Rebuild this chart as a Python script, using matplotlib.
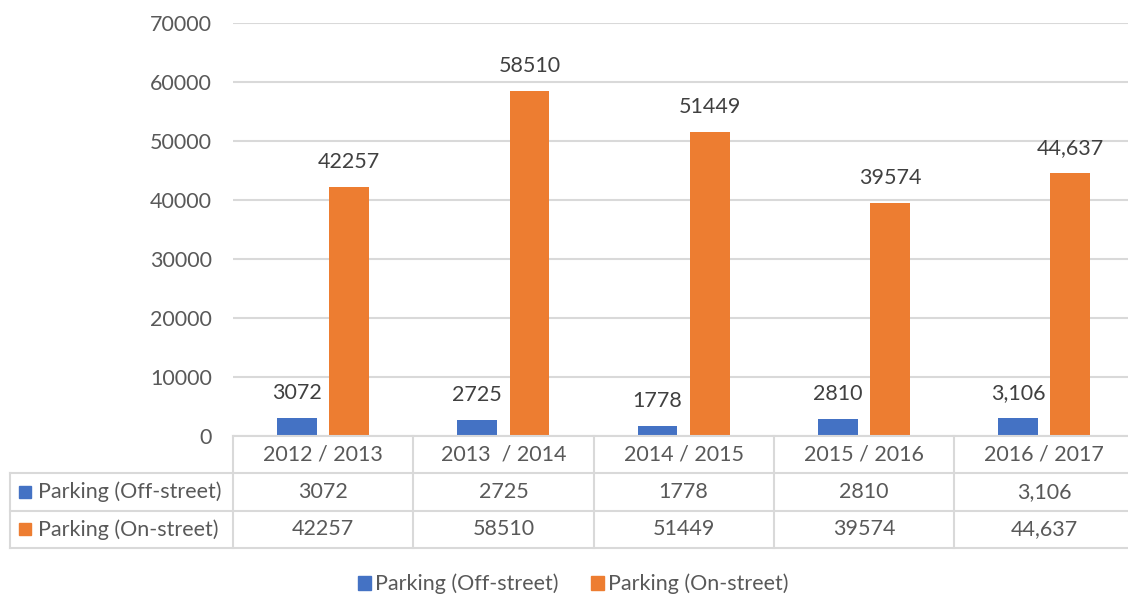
import numpy as np
import matplotlib.pyplot as plt
from matplotlib.patches import Patch

# данные
years = ['2012 / 2013', '2013  / 2014', '2014 / 2015', '2015 / 2016', '2016 / 2017']
off_street = [3072, 2725, 1778, 2810, 3106]
on_street = [42257, 58510, 51449, 39574, 44637]
off_labels = ['3072', '2725', '1778', '2810', '3,106']
on_labels = ['42257', '58510', '51449', '39574', '44,637']
series_names = ['Parking (Off-street)', 'Parking (On-street)']

blue = '#4472C4'
orange = '#ED7D31'
txt = '#595959'
grid = '#D9D9D9'
fs = 15.5

plt.rcParams['font.family'] = ['Lato', 'DejaVu Sans']

W, H = 1128, 596
fig = plt.figure(figsize=(W / 100, H / 100), dpi=100)

col_w = 180.25
x0, y0, ytop = 233, 436, 23
ax = fig.add_axes([x0 / W, 1 - y0 / H, 5 * col_w / W, (y0 - ytop) / H])

x = np.arange(len(years))
bw = 0.22
off = 0.145
ax.bar(x - off, off_street, bw, color=blue)
ax.bar(x + off, on_street, bw, color=orange)
for i in range(len(years)):
    ax.annotate(off_labels[i], (x[i] - off, off_street[i]), xytext=(0, 25),
                textcoords='offset pixels', ha='center', va='center', fontsize=fs, color='#404040')
    ax.annotate(on_labels[i], (x[i] + off, on_street[i]), xytext=(0, 25),
                textcoords='offset pixels', ha='center', va='center', fontsize=fs, color='#404040')

ax.set_xlim(-0.5, 4.5)
ax.set_ylim(0, 70000)
ax.set_yticks(np.arange(0, 70001, 10000))
ax.set_yticklabels([str(v) for v in range(0, 70001, 10000)], fontsize=fs, color=txt)
ax.tick_params(axis='y', length=0, pad=15)
ax.set_xticks([])
ax.grid(axis='y', color=grid, linewidth=1.5)
ax.set_axisbelow(True)
for s in ax.spines.values():
    s.set_visible(False)

# таблица данных под графиком
tl = 10
axt = fig.add_axes([tl / W, 1 - 548 / H, (x0 + 5 * col_w - tl) / W, (548 - y0) / H])
axt.set_xlim(-0.5 - (x0 - tl) / col_w, 4.5)
axt.set_ylim(0, 3)
axt.axis('off')
xl = -0.5 - (x0 - tl) / col_w
lw = 1.5
axt.plot([-0.5, 4.5], [3, 3], color=grid, lw=lw, clip_on=False)
for yy in [2, 1, 0]:
    axt.plot([xl, 4.5], [yy, yy], color=grid, lw=lw, clip_on=False)
axt.plot([xl, xl], [0, 2], color=grid, lw=lw, clip_on=False)
for k in range(5):
    axt.plot([k - 0.5, k - 0.5], [0, 3], color=grid, lw=lw, clip_on=False)

for i in range(len(years)):
    axt.text(x[i], 2.5, years[i], ha='center', va='center', fontsize=fs, color=txt)
    axt.text(x[i], 1.5, off_labels[i], ha='center', va='center', fontsize=fs, color=txt)
    axt.text(x[i], 0.5, on_labels[i], ha='center', va='center', fontsize=fs, color=txt)

mx = xl + 15 / col_w
tx = xl + 28 / col_w
for yy, c, name in [(1.5, blue, series_names[0]), (0.5, orange, series_names[1])]:
    axt.plot([mx], [yy], marker='s', color=c, markersize=9, clip_on=False)
    axt.text(tx, yy, name, ha='left', va='center', fontsize=fs, color=txt)

handles = [Patch(color=blue, label=series_names[0]), Patch(color=orange, label=series_names[1])]
fig.legend(handles=handles, loc='center', bbox_to_anchor=(573 / W, 1 - 584 / H), ncol=2,
           frameon=False, fontsize=fs, labelcolor=txt, handlelength=0.6, handleheight=0.6,
           handletextpad=0.2, columnspacing=1.5)

fig.savefig('out.png', dpi=100)
